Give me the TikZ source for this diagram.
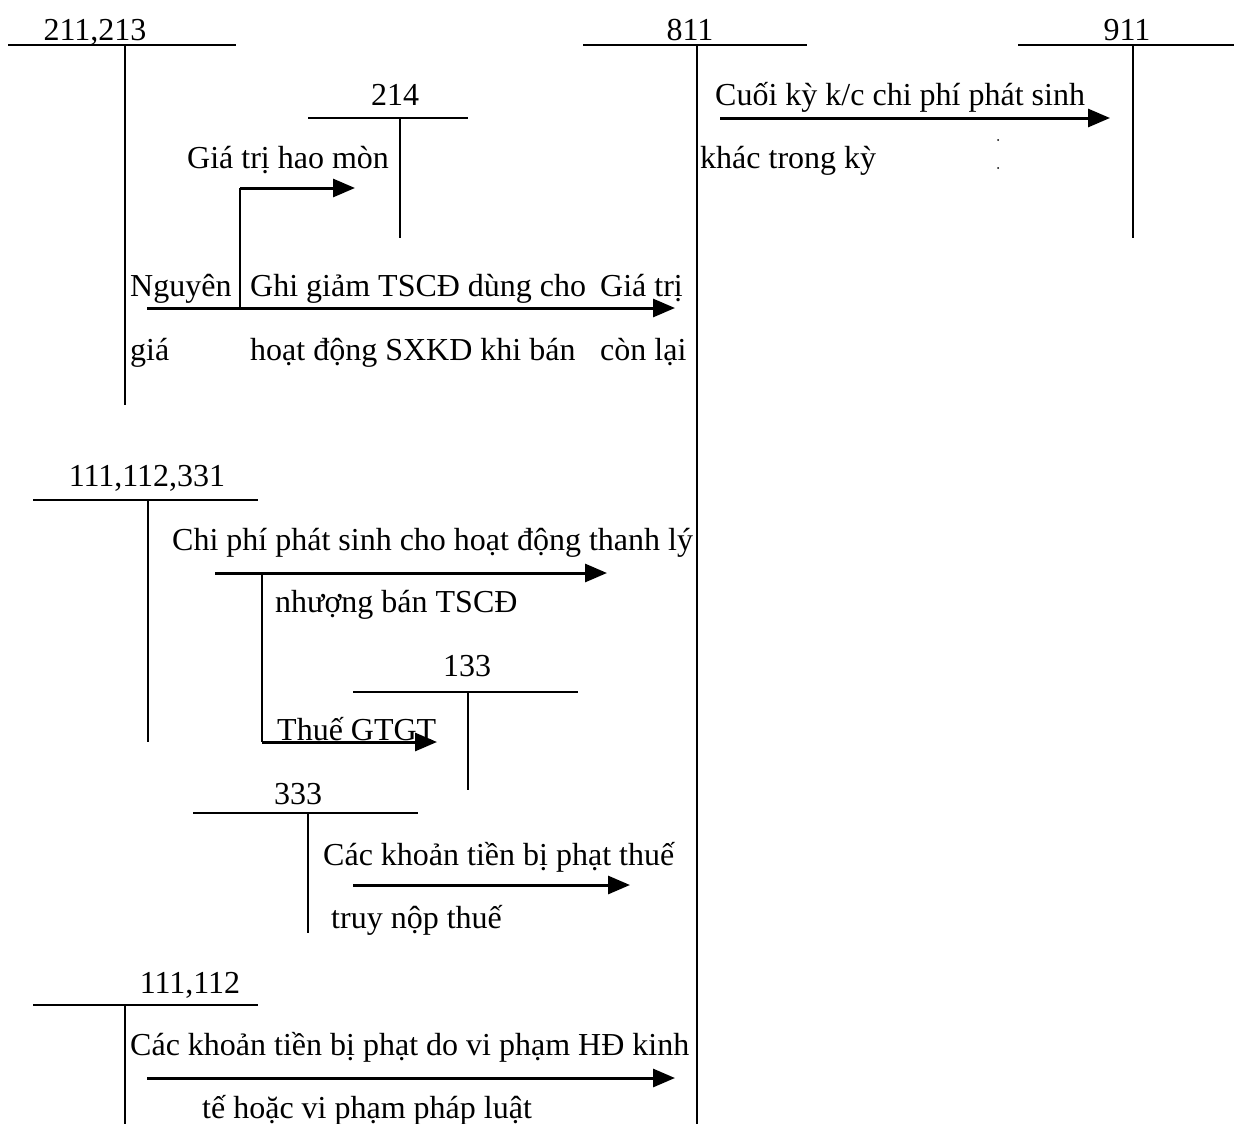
\documentclass[tikz,border=0pt]{standalone}
\usepackage{fontspec}
\setmainfont{Liberation Serif}
\usetikzlibrary{arrows.meta,positioning}

\begin{document}
\begin{tikzpicture}[
  x=1pt, y=-1pt,
  tline/.style={line width=1.6pt},
  arr/.style={line width=3pt, -{Triangle[length=22pt,width=18pt]}},
  acct/.style={anchor=base, inner sep=0pt, font=\fontsize{32}{38}\selectfont},
  txt/.style={anchor=base west, inner sep=0pt, font=\fontsize{32}{38}\selectfont}
]
\useasboundingbox (0,0) rectangle (1234,1124);

% T accounts
\node[acct] (acc211) at (95,41) {211,213};
\draw[tline] (8,45) -- (236,45) (125,45) -- (125,405);
\node[acct] (acc214) at (395,106) {214};
\draw[tline] (308,118) -- (468,118) (400,118) -- (400,238);
\node[acct] (acc811) at (690,41) {811};
\draw[tline] (583,45) -- (807,45) (697,45) -- (697,1124);
\node[acct] (acc911) at (1127,41) {911};
\draw[tline] (1018,45) -- (1234,45) (1133,45) -- (1133,238);
\node[acct] (acc111a) at (147,486) {111,112,331};
\draw[tline] (33,500) -- (258,500) (148,500) -- (148,742);
\node[acct] (acc133) at (467,676) {133};
\draw[tline] (353,692) -- (578,692) (468,692) -- (468,790);
\node[acct] (acc333) at (298,804) {333};
\draw[tline] (193,813) -- (418,813) (308,813) -- (308,933);
\node[acct] (acc111b) at (190,993) {111,112};
\draw[tline] (33,1005) -- (258,1005) (125,1005) -- (125,1124);

% ghi giam TSCD
\node[txt] (ng1) at (130,296) {Nguyên};
\node[txt] (ng2) at (130,360) {giá};
\node[txt] (gg1) at (250,296) {Ghi giảm TSCĐ dùng cho};
\node[txt] (gg2) at (250,360) {hoạt động SXKD khi bán};
\node[txt] (cl1) at (600,296) {Giá trị};
\node[txt] (cl2) at (600,360) {còn lại};
\node[txt] (hm) at (187,168) {Giá trị hao mòn};
\coordinate (gg-s) at (147,308);
\coordinate (gg-e) at (675,308);
\coordinate (hm-s) at (240,308);
\coordinate (hm-e) at (355,188);
\draw[arr] (gg-s) -- (gg-e);
\draw[tline] (hm-s) -- (hm-s |- hm-e);
\draw[arr] (hm-s |- hm-e) -- (hm-e);

% ket chuyen
\node[txt] (kc1) at (715,105) {Cuối kỳ k/c chi phí phát sinh};
\node[txt] (kc2) at (700,168) {khác trong kỳ};
\coordinate (kc-s) at (720,118);
\coordinate (kc-e) at (1110,118);
\draw[arr] (kc-s) -- (kc-e);
\fill (998,140) circle (1pt) (998,168) circle (1pt);

% chi phi thanh ly
\node[txt] (tl1) at (172,550) {Chi phí phát sinh cho hoạt động thanh lý};
\node[txt] (tl2) at (275,612) {nhượng bán TSCĐ};
\node[txt] (vat) at (277,740) {Thuế GTGT};
\coordinate (tl-s) at (215,573);
\coordinate (tl-e) at (607,573);
\coordinate (vat-s) at (262,573);
\coordinate (vat-e) at (437,742);
\draw[arr] (tl-s) -- (tl-e);
\draw[tline] (vat-s) -- (vat-s |- vat-e);
\draw[arr] (vat-s |- vat-e) -- (vat-e);

% phat thue
\node[txt] (pt1) at (323,865) {Các khoản tiền bị phạt thuế};
\node[txt] (pt2) at (331,928) {truy nộp thuế};
\coordinate (pt-s) at (353,885);
\coordinate (pt-e) at (630,885);
\draw[arr] (pt-s) -- (pt-e);

% phat hop dong
\node[txt] (hd1) at (130,1055) {Các khoản tiền bị phạt do vi phạm HĐ kinh};
\node[txt] (hd2) at (202,1118) {tế hoặc vi phạm pháp luật};
\coordinate (hd-s) at (147,1078);
\coordinate (hd-e) at (675,1078);
\draw[arr] (hd-s) -- (hd-e);
\end{tikzpicture}
\end{document}
